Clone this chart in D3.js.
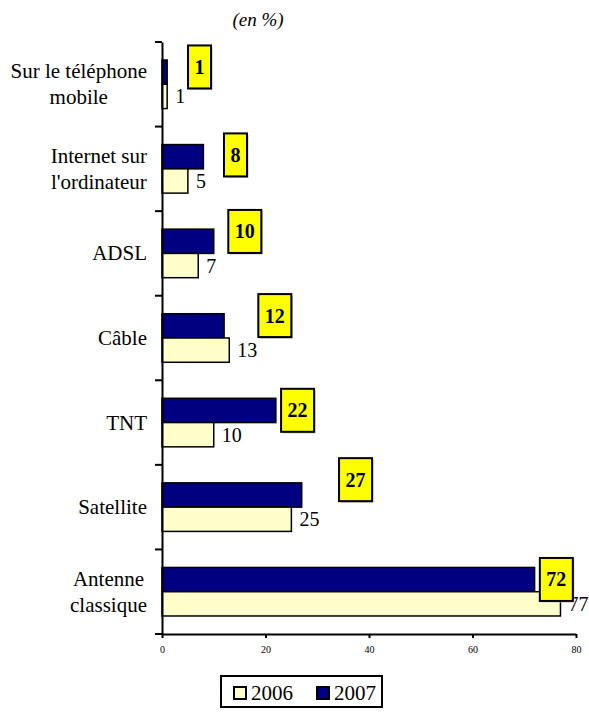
<!DOCTYPE html>
<html>
<head>
<meta charset="utf-8">
<script src="https://cdn.jsdelivr.net/npm/d3@7"></script>
<style>
  html, body { margin: 0; padding: 0; background: #fff; }
  svg { display: block; }
</style>
</head>
<body>
<svg id="chart" width="589" height="713"></svg>
<script>
// ---- data ----
const categories = [
  ["Sur le téléphone", "mobile"],
  ["Internet sur", "l'ordinateur"],
  ["ADSL"],
  ["Câble"],
  ["TNT"],
  ["Satellite"],
  ["Antenne", "classique"]
];
const values2006 = [1, 5, 7, 13, 10, 25, 77];
const values2007 = [1, 8, 10, 12, 22, 27, 72];
const seriesNames = ["2006", "2007"];
const xTicks = [0, 20, 40, 60, 80];
// callout anchors (in % units along x, and fraction of band along y)
const calloutX = [7.25, 14.2, 16.0, 21.8, 26.2, 37.4, 76.2];
const calloutY = [0.295, 0.335, 0.24, 0.235, 0.355, 0.175, 0.355];
const chartTitle = "(en %)";

(function () {
const svg = d3.select("#chart");
const mLeft = 162, mRight = 576, mTop = 42, mBottom = 634;
const font = '"Liberation Serif", "Times New Roman", "DejaVu Serif", serif';

const x = d3.scaleLinear().domain([0, 80]).range([mLeft, mRight]);
const y = d3.scaleBand().domain(d3.range(categories.length)).range([mTop, mBottom]);
const barH = y.bandwidth() * 0.287;

svg.append("text")
  .attr("x", 258).attr("y", 26)
  .attr("text-anchor", "middle")
  .attr("font-family", font)
  .attr("font-style", "italic")
  .attr("font-size", 19)
  .text(chartTitle);

const g = svg.append("g");
categories.forEach((c, i) => {
  const cy = y(i) + y.bandwidth() / 2;
  g.append("rect")
    .attr("x", x(0)).attr("y", cy - barH)
    .attr("width", x(values2007[i]) - x(0)).attr("height", barH)
    .attr("fill", "#000080").attr("stroke", "#000").attr("stroke-width", 1.5);
  g.append("rect")
    .attr("x", x(0)).attr("y", cy)
    .attr("width", x(values2006[i]) - x(0)).attr("height", barH)
    .attr("fill", "#FFFFCC").attr("stroke", "#000").attr("stroke-width", 1.5);
  g.append("text")
    .attr("x", x(values2006[i]) + 8)
    .attr("y", cy + barH / 2)
    .attr("dy", "0.35em")
    .attr("font-family", font)
    .attr("font-size", 20)
    .text(values2006[i]);
});

const yAxis = svg.append("g")
  .attr("transform", `translate(${x(0)},0)`)
  .call(d3.axisLeft(y).tickValues([]).tickSizeOuter(0));
yAxis.select(".domain").attr("stroke", "#000").attr("stroke-width", 2);
const bounds = d3.range(categories.length + 1).map(i => mTop + i * y.step());
svg.append("g").selectAll("line").data(bounds).join("line")
  .attr("x1", x(0) - 7).attr("x2", x(0))
  .attr("y1", d => d).attr("y2", d => d)
  .attr("stroke", "#000").attr("stroke-width", 2);

const xAxis = svg.append("g")
  .attr("transform", `translate(0,${mBottom})`)
  .call(d3.axisBottom(x).tickValues(xTicks).tickSize(4).tickSizeOuter(0).tickPadding(8));
xAxis.attr("font-family", font);
xAxis.select(".domain").attr("stroke", "#000").attr("stroke-width", 2);
xAxis.selectAll(".tick line").attr("stroke", "#000").attr("stroke-width", 2);
xAxis.selectAll(".tick text").attr("font-family", font).attr("font-size", 10).attr("fill", "#000");

categories.forEach((lines, i) => {
  const cy = y(i) + y.bandwidth() / 2;
  const t = svg.append("text")
    .attr("font-family", font)
    .attr("font-size", 21).attr("text-anchor", "middle");
  const lh = 26;
  const first = cy + 7 - (lines.length - 1) * lh / 2;
  const spans = lines.map((l, k) => t.append("tspan").attr("y", first + k * lh).text(l));
  let maxW = 0;
  spans.forEach(s => { maxW = Math.max(maxW, s.node().getComputedTextLength()); });
  spans.forEach(s => s.attr("x", 147 - maxW / 2));
});

categories.forEach((c, i) => {
  const txt = String(values2007[i]);
  const w = txt.length === 1 ? 23 : 33, h = 43;
  const cx = x(calloutX[i]);
  const cy = y(i) + y.bandwidth() * calloutY[i];
  svg.append("rect")
    .attr("x", cx - w / 2 + 1.5).attr("y", cy - h / 2 + 1.5)
    .attr("width", w).attr("height", h).attr("fill", "#bbb");
  svg.append("rect")
    .attr("x", cx - w / 2).attr("y", cy - h / 2)
    .attr("width", w).attr("height", h)
    .attr("fill", "#FFFF00").attr("stroke", "#000").attr("stroke-width", 2);
  svg.append("text")
    .attr("x", cx).attr("y", cy).attr("dy", "0.35em")
    .attr("font-family", font)
    .attr("text-anchor", "middle").attr("font-weight", "bold").attr("font-size", 20)
    .text(txt);
});

const lg = svg.append("g");
lg.append("rect").attr("x", 221).attr("y", 676).attr("width", 161).attr("height", 31)
  .attr("fill", "#fff").attr("stroke", "#000").attr("stroke-width", 2);
const legendColors = ["#FFFFCC", "#000080"];
const legendX = [234, 317];
seriesNames.forEach((n, k) => {
  lg.append("rect").attr("x", legendX[k]).attr("y", 687).attr("width", 12).attr("height", 12)
    .attr("fill", legendColors[k]).attr("stroke", "#000").attr("stroke-width", 2);
  lg.append("text").attr("x", legendX[k] + 17).attr("y", 700)
    .attr("font-family", font)
    .attr("font-size", 21).text(n);
});
})();
</script>
</body>
</html>
